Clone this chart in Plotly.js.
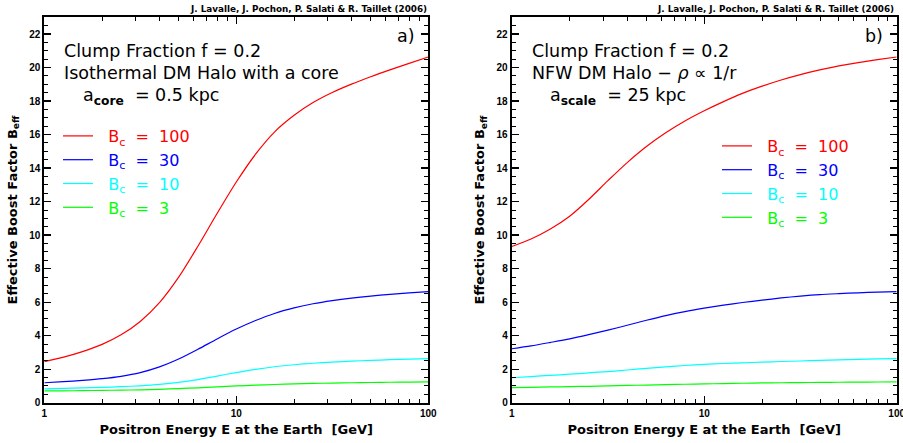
<!DOCTYPE html>
<html>
<head>
<meta charset="utf-8">
<script src="https://cdn.plot.ly/plotly-3.0.1.min.js"></script>
<style>html,body{margin:0;padding:0;background:#fff;}#chart{width:903px;height:443px;}</style>
</head>
<body>
<div id="chart"></div>
<script>
// ---- Data ----
// Positron energy grid [GeV], shared by every curve
const energy = [1, 1.26, 1.58, 2, 2.51, 3.16, 3.98, 5.01, 6.31, 7.94, 10, 12.6, 15.8, 20, 25.1, 31.6, 39.8, 50.1, 63.1, 79.4, 100];
// Panel a) Isothermal DM halo with a core
const a_B100 = [2.45, 2.72, 3.05, 3.48, 4.05, 4.85, 5.97, 7.49, 9.34, 11.29, 13.17, 14.83, 16.15, 17.15, 17.91, 18.51, 19.01, 19.45, 19.86, 20.25, 20.63];
const a_B30  = [1.19, 1.255, 1.335, 1.435, 1.575, 1.795, 2.135, 2.605, 3.185, 3.805, 4.395, 4.905, 5.325, 5.655, 5.905, 6.095, 6.245, 6.365, 6.465, 6.555, 6.63];
const a_B10  = [0.82, 0.85, 0.88, 0.915, 0.955, 1.01, 1.09, 1.21, 1.38, 1.59, 1.80, 1.99, 2.145, 2.265, 2.355, 2.425, 2.48, 2.525, 2.565, 2.60, 2.63];
const a_B3   = [0.70, 0.71, 0.72, 0.735, 0.75, 0.77, 0.80, 0.84, 0.89, 0.945, 1.0, 1.045, 1.085, 1.12, 1.15, 1.17, 1.19, 1.205, 1.22, 1.23, 1.24];
// Panel b) NFW DM halo
const b_B100 = [9.32, 9.77, 10.35, 11.13, 12.13, 13.25, 14.33, 15.29, 16.11, 16.81, 17.42, 17.97, 18.46, 18.89, 19.26, 19.58, 19.86, 20.10, 20.30, 20.47, 20.63];
const b_B30  = [3.22, 3.39, 3.59, 3.81, 4.06, 4.33, 4.62, 4.92, 5.2, 5.44, 5.64, 5.82, 5.98, 6.12, 6.25, 6.36, 6.45, 6.51, 6.56, 6.60, 6.63];
const b_B10  = [1.49, 1.56, 1.63, 1.70, 1.78, 1.86, 1.95, 2.05, 2.14, 2.22, 2.29, 2.34, 2.38, 2.42, 2.46, 2.49, 2.53, 2.56, 2.59, 2.61, 2.63];
const b_B3   = [0.90, 0.92, 0.94, 0.96, 0.98, 1.0, 1.03, 1.05, 1.08, 1.10, 1.12, 1.14, 1.16, 1.18, 1.19, 1.20, 1.21, 1.22, 1.23, 1.235, 1.24];

const clumpBoost = ['100', '30', '10', '3'];
const seriesColors = ['#ff0000', '#0000ff', '#00ffff', '#00ff00'];
const xTickVals = [1, 10, 100];
const xTickText = ['1', '10', '100'];
const credit = 'J. Lavalle, J. Pochon, P. Salati &amp; R. Taillet (2006)';

// ---- Build traces ----
const W = 903, H = 443;
const traces = [];
const label = i => '<span style="color:' + seriesColors[i] + '">&nbsp;&nbsp;B<sub>c</sub>&nbsp; =&nbsp; ' + clumpBoost[i] + '</span>';
[a_B100, a_B30, a_B10, a_B3].forEach((ys, i) => traces.push({
  x: energy, y: ys, xaxis: 'x', yaxis: 'y', type: 'scatter', mode: 'lines',
  line: {color: seriesColors[i], width: 1.2, shape: 'spline', smoothing: 0.8},
  name: label(i), legend: 'legend'
}));
[b_B100, b_B30, b_B10, b_B3].forEach((ys, i) => traces.push({
  x: energy, y: ys, xaxis: 'x2', yaxis: 'y2', type: 'scatter', mode: 'lines',
  line: {color: seriesColors[i], width: 1.2, shape: 'spline', smoothing: 0.8},
  name: label(i), legend: 'legend2'
}));

const px = v => v / W;
const py = v => 1 - v / H;
const tickFont = {family: 'Liberation Sans, Arial, sans-serif', size: 10, color: '#000', weight: 'bold'};
const titleFont = {family: 'DejaVu Sans, sans-serif', size: 13, color: '#000', weight: 'bold'};
const textFont = {family: 'DejaVu Sans, sans-serif', size: 17.5, color: '#000'};

function xAxis(domain, anchor) {
  return {
    domain: domain, anchor: anchor, type: 'log', range: [0, 2],
    tickmode: 'array', tickvals: xTickVals, ticktext: xTickText,
    ticks: 'inside', ticklen: 7, tickwidth: 1.3, tickcolor: '#000',
    minor: {dtick: 'D1', ticks: 'inside', ticklen: 4, tickwidth: 1, tickcolor: '#000'},
    showline: true, linewidth: 2, linecolor: '#000', mirror: 'ticks',
    showgrid: false, zeroline: false, tickfont: tickFont, fixedrange: true,
    ticklabeloverflow: 'allow',
    title: {text: 'Positron Energy E at the Earth&nbsp;&nbsp;[GeV]', font: titleFont, standoff: 7}
  };
}
function yAxis(domain, anchor) {
  return {
    domain: domain, anchor: anchor, range: [0, 23],
    tickmode: 'linear', tick0: 0, dtick: 2,
    ticks: 'inside', ticklen: 7, tickwidth: 1.3, tickcolor: '#000',
    minor: {dtick: 0.5, ticks: 'inside', ticklen: 4, tickwidth: 1, tickcolor: '#000'},
    showline: true, linewidth: 2, linecolor: '#000', mirror: 'ticks',
    showgrid: false, zeroline: false, tickfont: tickFont, fixedrange: true,
    title: {text: 'Effective Boost Factor B<sub>eff</sub>', font: titleFont, standoff: 9}
  };
}

const yDom = [1 - 402.7 / H, 1 - 17.3 / H];
const legendCommon = {
  bgcolor: 'rgba(0,0,0,0)', borderwidth: 0,
  font: {family: 'DejaVu Sans, sans-serif', size: 16, color: '#000'},
  xanchor: 'left', yanchor: 'top', xref: 'paper', yref: 'paper',
  tracegroupgap: 0, itemwidth: 30
};

const creditFont = {family: 'DejaVu Sans, sans-serif', size: 8.8, color: '#000', weight: 'bold'};

const layout = {
  width: W, height: H,
  margin: {l: 0, r: 0, t: 0, b: 0},
  paper_bgcolor: '#fff', plot_bgcolor: '#fff',
  showlegend: true,
  xaxis: xAxis([44.3 / W, 428.3 / W], 'y'),
  yaxis: yAxis(yDom, 'x'),
  xaxis2: xAxis([511.7 / W, 896.7 / W], 'y2'),
  yaxis2: yAxis(yDom, 'x2'),
  legend: Object.assign({}, legendCommon, {x: px(58), y: py(119)}),
  legend2: Object.assign({}, legendCommon, {x: px(717), y: py(129)}),
  annotations: [
    {text: credit, x: px(429), y: py(9), xanchor: 'right', yanchor: 'middle', font: creditFont},
    {text: credit, x: px(896), y: py(9), xanchor: 'right', yanchor: 'middle', font: creditFont},
    {text: 'Clump Fraction f = 0.2', x: px(62), y: py(51), xanchor: 'left', yanchor: 'middle', font: textFont},
    {text: 'Isothermal DM Halo with a core', x: px(62), y: py(73), xanchor: 'left', yanchor: 'middle', font: textFont},
    {text: 'a<sub><b>core</b></sub>&nbsp; = 0.5 kpc', x: px(81), y: py(96), xanchor: 'left', yanchor: 'middle', font: textFont},
    {text: 'a)', x: px(417), y: py(36), xanchor: 'right', yanchor: 'middle', font: textFont},
    {text: 'Clump Fraction f = 0.2', x: px(530), y: py(51), xanchor: 'left', yanchor: 'middle', font: textFont},
    {text: 'NFW DM Halo \u2212 <i>\u03c1</i> \u221d 1/r', x: px(530), y: py(73), xanchor: 'left', yanchor: 'middle', font: textFont},
    {text: 'a<sub><b>scale</b></sub>&nbsp; = 25 kpc', x: px(548), y: py(96), xanchor: 'left', yanchor: 'middle', font: textFont},
    {text: 'b)', x: px(885), y: py(36), xanchor: 'right', yanchor: 'middle', font: textFont}
  ].map(a => Object.assign({xref: 'paper', yref: 'paper', showarrow: false}, a))
};

Plotly.newPlot('chart', traces, layout, {staticPlot: true, displayModeBar: false});
</script>
</body>
</html>
